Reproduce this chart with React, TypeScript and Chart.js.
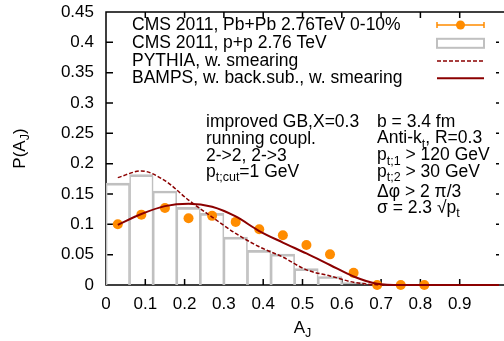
import React, { useEffect, useRef } from 'react';
import { Chart, registerables } from 'chart.js';

Chart.register(...registerables);

// ---------- data ----------
const AJ = [0.03, 0.09, 0.15, 0.21, 0.27, 0.33, 0.39, 0.45, 0.51, 0.57, 0.63, 0.69, 0.75, 0.81];
const PBPB = [0.100, 0.116, 0.127, 0.110, 0.114, 0.104, 0.092, 0.082, 0.066, 0.0505, 0.020, 0.0, 0.0, 0.0];
const PP = [0.168, 0.182, 0.155, 0.128, 0.118, 0.079, 0.057, 0.051, 0.027, 0.014, 0.004, 0, 0, 0];
const LINE_AJ = [0.03, 0.09, 0.15, 0.21, 0.27, 0.33, 0.39, 0.45, 0.51, 0.57, 0.63, 0.69, 0.75, 0.81, 0.87, 0.93, 1.0];
const PYTHIA = [0.177, 0.188, 0.172, 0.140, 0.112, 0.085, 0.063, 0.046, 0.025, 0.015, 0.0045, 0.0005, 0, 0, 0, 0, 0];
const BAMPS = [0.099, 0.117, 0.130, 0.134, 0.129, 0.113, 0.089, 0.070, 0.052, 0.033, 0.014, 0.002, 0, 0, 0, 0, 0];

const LEGEND = [
  'CMS 2011, Pb+Pb 2.76TeV 0-10%',
  'CMS 2011, p+p 2.76 TeV',
  'PYTHIA, w. smearing',
  'BAMPS, w. back.sub., w. smearing',
];
const NOTE_LEFT = ['improved GB,X=0.3', 'running coupl.', '2->2, 2->3', 'p_{t;cut}=1 GeV'];
const NOTE_RIGHT = ['b = 3.4 fm', 'Anti-k_{t}, R=0.3', 'p_{t;1} > 120 GeV', 'p_{t;2} > 30 GeV', 'Δφ > 2 π/3', 'σ = 2.3 √p_{t}'];
const X_TITLE = 'A_{J}';
const Y_TITLE = 'P(A_{J})';

// ---------- styles ----------
const FONT = '"Liberation Sans", Arial, Helvetica, sans-serif';
const MAIN = 17.5;
const SUB = 12.5;
const TICK = 17;
const ORANGE = '#ff8c00';
const DARKRED = '#8b0000';
const GREY = '#c0c0c0';

const W = 504;
const H = 341;

function parseRich(s: string) {
  const parts: { t: string; sub: boolean }[] = [];
  const re = /_\{([^}]*)\}/g;
  let last = 0;
  let m: RegExpExecArray | null;
  while ((m = re.exec(s))) {
    if (m.index > last) parts.push({ t: s.slice(last, m.index), sub: false });
    parts.push({ t: m[1], sub: true });
    last = m.index + m[0].length;
  }
  if (last < s.length) parts.push({ t: s.slice(last), sub: false });
  return parts;
}

function richWidth(ctx: CanvasRenderingContext2D, s: string, size = MAIN) {
  let w = 0;
  for (const p of parseRich(s)) {
    ctx.font = `${p.sub ? SUB : size}px ${FONT}`;
    w += ctx.measureText(p.t).width;
  }
  return w;
}

function drawRich(ctx: CanvasRenderingContext2D, s: string, x: number, y: number, size = MAIN) {
  let cx = x;
  ctx.textBaseline = 'middle';
  ctx.textAlign = 'left';
  for (const p of parseRich(s)) {
    ctx.font = `${p.sub ? SUB : size}px ${FONT}`;
    ctx.fillText(p.t, cx, p.sub ? y + 6 : y);
    cx += ctx.measureText(p.t).width;
  }
}

const frameplugin = {
  id: 'frame',
  beforeDatasetsDraw(chart: any) {
    const { ctx, chartArea: a, scales } = chart;
    const x = scales.x;
    const y = scales.y;
    ctx.save();
    ctx.strokeStyle = '#000';
    ctx.lineWidth = 1.5;
    ctx.beginPath();
    ctx.moveTo(a.right + 10, a.top);
    ctx.lineTo(a.left, a.top);
    ctx.lineTo(a.left, a.bottom);
    ctx.lineTo(a.right + 10, a.bottom);
    y.ticks.forEach((t: any) => {
      const py = y.getPixelForValue(t.value);
      ctx.moveTo(a.left, py);
      ctx.lineTo(a.left + 7, py);
      ctx.moveTo(a.right - 3, py);
      ctx.lineTo(a.right, py);
    });
    x.ticks.forEach((t: any) => {
      if (t.value <= 0.001 || t.value >= 0.999) return;
      const px = x.getPixelForValue(t.value);
      ctx.moveTo(px, a.bottom);
      ctx.lineTo(px, a.bottom - 6);
      ctx.moveTo(px, a.top);
      ctx.lineTo(px, a.top + 6);
    });
    ctx.stroke();
    ctx.restore();
  },
  afterDraw(chart: any) {
    const { ctx, chartArea: a } = chart;
    ctx.save();
    ctx.fillStyle = '#000';

    // axis titles
    const xw = richWidth(ctx, X_TITLE, TICK);
    drawRich(ctx, X_TITLE, (a.left + a.right) / 2 - xw / 2, 328, TICK);
    ctx.save();
    ctx.translate(20, (a.top + a.bottom) / 2);
    ctx.rotate(-Math.PI / 2);
    const yw = richWidth(ctx, Y_TITLE, TICK);
    drawRich(ctx, Y_TITLE, -yw / 2, 0, TICK);
    ctx.restore();

    // legend
    const rows = [25, 43.3, 61, 78.3];
    const sx0 = 437;
    const sx1 = 484;
    LEGEND.forEach((s, i) => drawRich(ctx, s, 132, rows[i]));
    // sample 1: points with x error bar
    ctx.strokeStyle = ORANGE;
    ctx.lineWidth = 1.5;
    ctx.beginPath();
    ctx.moveTo(sx0, rows[0]);
    ctx.lineTo(sx1, rows[0]);
    ctx.moveTo(sx0, rows[0] - 3);
    ctx.lineTo(sx0, rows[0] + 3);
    ctx.moveTo(sx1, rows[0] - 3);
    ctx.lineTo(sx1, rows[0] + 3);
    ctx.stroke();
    ctx.fillStyle = ORANGE;
    ctx.beginPath();
    ctx.arc((sx0 + sx1) / 2, rows[0], 4.5, 0, Math.PI * 2);
    ctx.fill();
    // sample 2: box
    ctx.strokeStyle = GREY;
    ctx.lineWidth = 2;
    ctx.strokeRect(sx0, rows[1] - 4.5, sx1 - sx0, 9);
    // sample 3: dashed
    ctx.strokeStyle = DARKRED;
    ctx.lineWidth = 1.5;
    ctx.setLineDash([4, 2]);
    ctx.beginPath();
    ctx.moveTo(sx0, rows[2]);
    ctx.lineTo(sx1, rows[2]);
    ctx.stroke();
    ctx.setLineDash([]);
    // sample 4: solid
    ctx.lineWidth = 2;
    ctx.beginPath();
    ctx.moveTo(sx0, rows[3]);
    ctx.lineTo(sx1, rows[3]);
    ctx.stroke();

    // annotations
    ctx.fillStyle = '#000';
    const leftY = [121.7, 139, 156.5, 172];
    NOTE_LEFT.forEach((s, i) => drawRich(ctx, s, 206, leftY[i]));
    const rightY = [121.7, 138.5, 155.5, 172, 192, 208];
    NOTE_RIGHT.forEach((s, i) => drawRich(ctx, s, 377, rightY[i]));
    ctx.restore();
  },
};

export default function App() {
  const ref = useRef<HTMLCanvasElement | null>(null);
  useEffect(() => {
    if (!ref.current) return;
    const chart = new Chart(ref.current, {
      type: 'bar',
      data: {
        datasets: [
          {
            type: 'line',
            label: 'BAMPS',
            data: LINE_AJ.map((x, i) => ({ x, y: BAMPS[i] })),
            borderColor: DARKRED,
            borderWidth: 2,
            pointRadius: 0,
            cubicInterpolationMode: 'monotone',
            fill: false,
            clip: false,
            order: 1,
          } as any,
          {
            type: 'line',
            label: 'PYTHIA',
            data: LINE_AJ.map((x, i) => ({ x, y: PYTHIA[i] })),
            borderColor: DARKRED,
            borderWidth: 1.5,
            borderDash: [4, 2],
            pointRadius: 0,
            cubicInterpolationMode: 'monotone',
            fill: false,
            clip: false,
            order: 2,
          } as any,
          {
            type: 'line',
            label: 'PbPb',
            data: AJ.map((x, i) => ({ x, y: PBPB[i] })),
            showLine: false,
            pointRadius: 5,
            pointBackgroundColor: ORANGE,
            pointBorderColor: ORANGE,
            pointBorderWidth: 0,
            clip: false,
            order: 3,
          } as any,
          {
            type: 'bar',
            label: 'pp',
            data: AJ.map((x, i) => ({ x, y: PP[i] })),
            backgroundColor: 'rgba(0,0,0,0)',
            borderColor: GREY,
            borderWidth: { top: 2, left: 1, right: 1, bottom: 0 },
            borderSkipped: false,
            barPercentage: 1,
            categoryPercentage: 1,
            order: 4,
          } as any,
        ],
      },
      options: {
        responsive: false,
        maintainAspectRatio: false,
        animation: false,
        layout: { padding: { left: 0, top: 12, right: 0, bottom: 0 } },
        plugins: { legend: { display: false }, tooltip: { enabled: false } },
        scales: {
          x: {
            type: 'linear',
            min: 0,
            max: 1,
            offset: false,
            grid: { display: false, drawTicks: false, offset: false },
            border: { display: false },
            afterFit: (s: any) => {
              s.height = 56;
              s.paddingLeft = 0;
              s.paddingRight = 0;
            },
            ticks: {
              stepSize: 0.1,
              autoSkip: false,
              maxRotation: 0,
              padding: 9,
              color: '#000',
              font: { family: FONT, size: TICK },
              callback: (v: any) => (Number(v) >= 0.999 ? '' : String(Number(Number(v).toFixed(1)))),
            },
          },
          y: {
            type: 'linear',
            min: 0,
            max: 0.45,
            grid: { display: false, drawTicks: false },
            border: { display: false },
            afterFit: (s: any) => {
              s.width = 106;
              s.paddingTop = 0;
              s.paddingBottom = 0;
            },
            ticks: {
              stepSize: 0.05,
              padding: 12,
              color: '#000',
              font: { family: FONT, size: TICK },
              callback: (v: any) => String(Number(Number(v).toFixed(2))),
            },
          },
        },
      },
      plugins: [frameplugin],
    });
    return () => chart.destroy();
  }, []);
  return (
    <div style={{ position: 'absolute', left: 0, top: 0, width: W, height: H, overflow: 'hidden', background: '#fff' }}>
      <canvas ref={ref} width={W} height={H} style={{ width: W, height: H, display: 'block' }} />
    </div>
  );
}
